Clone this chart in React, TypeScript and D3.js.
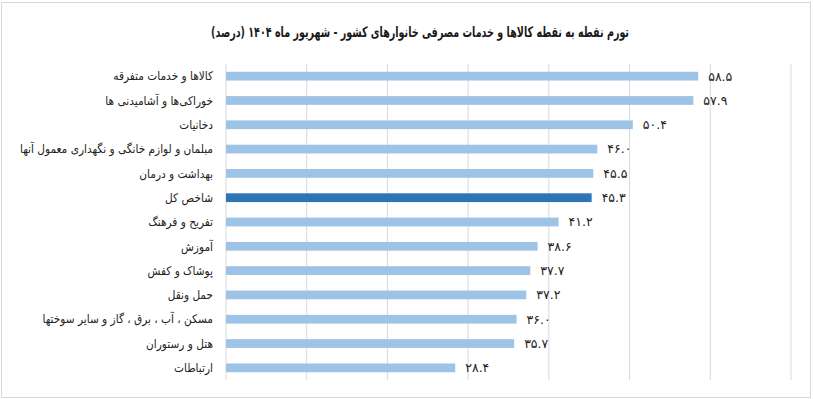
import React from "react";
import * as d3 from "d3";

const categories = [
  "کالاها و خدمات متفرقه",
  "خوراکی‌ها و آشامیدنی ها",
  "دخانیات",
  "مبلمان و لوازم خانگی و نگهداری معمول آنها",
  "بهداشت و درمان",
  "شاخص کل",
  "تفریح و فرهنگ",
  "آموزش",
  "پوشاک و کفش",
  "حمل ونقل",
  "مسکن ، آب ، برق ، گاز و سایر سوختها",
  "هتل و رستوران",
  "ارتباطات",
];
const values = [58.5, 57.9, 50.4, 46.0, 45.5, 45.3, 41.2, 38.6, 37.7, 37.2, 36.0, 35.7, 28.4];
const highlight = "شاخص کل";
const ticks = [0, 10, 20, 30, 40, 50, 60, 70];
const title = "تورم نقطه به نقطه کالاها و خدمات مصرفی خانوارهای کشور - شهریور ماه ۱۴۰۴ (درصد)";

const width = 813;
const height = 399;
const margin = { top: 64, right: 22, bottom: 19, left: 226 };

const toPersian = (s: string) => s.replace(/[0-9]/g, (d) => "۰۱۲۳۴۵۶۷۸۹"[+d]);

export default function App() {
  const x = d3
    .scaleLinear()
    .domain([0, 70])
    .range([margin.left, width - margin.right]);
  const y = d3
    .scaleBand()
    .domain(categories)
    .range([margin.top, height - margin.bottom])
    .paddingInner(0.64)
    .paddingOuter(0.32);

  const font = "'DejaVu Sans', 'Noto Sans', sans-serif";

  return (
    <div style={{ position: "fixed", left: 0, top: 0 }}>
      <svg width={width} height={height} style={{ display: "block", background: "#fff" }}>
        <rect x={1.5} y={2.5} width={809} height={395} fill="none" stroke="#d9d9d9" />
        {/* title squeezed horizontally to match the narrow original font */}
        <text
          transform="translate(420,37) scale(0.66,1)"
          textAnchor="middle"
          direction="rtl"
          fontFamily={font}
          fontWeight="bold"
          fontSize={14.5}
          fill="#1a1a1a"
        >
          {title}
        </text>
        {ticks.map((t) => (
          <line
            key={t}
            x1={x(t)}
            x2={x(t)}
            y1={margin.top}
            y2={height - margin.bottom}
            stroke="#d9d9d9"
            strokeWidth={1}
          />
        ))}
        {categories.map((c, i) => {
          const cy = (y(c) ?? 0) + y.bandwidth() / 2;
          return (
            <g key={c}>
              <rect
                x={x(0)}
                y={y(c)}
                width={x(values[i]) - x(0)}
                height={y.bandwidth()}
                fill={c === highlight ? "#2e75b6" : "#9dc3e6"}
              />
              <text
                transform={`translate(213,${cy}) scale(0.88,1)`}
                dy="0.35em"
                textAnchor="start"
                direction="rtl"
                fontFamily={font}
                fontSize={12}
                fill="#222"
              >
                {c}
              </text>
              <text
                x={x(values[i]) + 10}
                y={cy}
                dy="0.35em"
                fontFamily={font}
                fontSize={12.5}
                fill="#222"
              >
                {toPersian(values[i].toFixed(1))}
              </text>
            </g>
          );
        })}
      </svg>
    </div>
  );
}
